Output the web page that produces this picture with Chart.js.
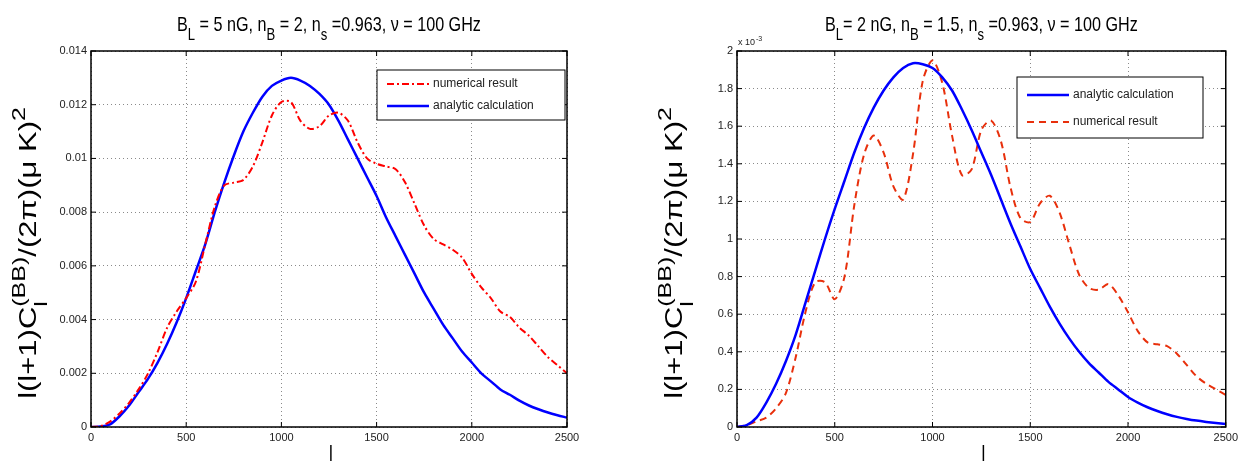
<!DOCTYPE html>
<html>
<head>
<meta charset="utf-8">
<script src="https://cdn.jsdelivr.net/npm/chart.js@4.4.1/dist/chart.umd.min.js"></script>
<style>
body { margin: 0; background: #fff; }
#wrap { position: relative; width: 1242px; height: 463px; }
canvas { position: absolute; left: 0; top: 0; }
</style>
</head>
<body>
<div id="wrap">
    <canvas id="chart1" width="1242" height="463"></canvas>
    <canvas id="chart2" width="1242" height="463"></canvas>
</div>
<script>
// multipole l, sampled every 50
const ell = [0, 50, 100, 150, 200, 250, 300, 350, 400, 450,
    500, 550, 600, 650, 700, 750, 800, 850, 900, 950,
    1000, 1050, 1100, 1150, 1200, 1250, 1300, 1350, 1400, 1450,
    1500, 1550, 1600, 1650, 1700, 1750, 1800, 1850, 1900, 1950,
    2000, 2050, 2100, 2150, 2200, 2250, 2300, 2350, 2400, 2450, 2500]

// left panel: B_L = 5 nG, n_B = 2
const analytic5nG = [0, 0.00002, 0.0001, 0.0004, 0.0008, 0.0013, 0.0018, 0.0024, 0.0031, 0.0039,
    0.0048, 0.0058, 0.0068, 0.0080, 0.0091, 0.0101, 0.0110, 0.0117, 0.0123, 0.0127,
    0.0129, 0.0130, 0.0129, 0.0127, 0.0124, 0.0120, 0.0114, 0.0107, 0.0100, 0.0093,
    0.0086, 0.0078, 0.0071, 0.0064, 0.0057, 0.0050, 0.0044, 0.0038, 0.0033, 0.0028,
    0.0024, 0.0020, 0.0017, 0.0014, 0.0012, 0.00098, 0.0008, 0.00066, 0.00054, 0.00044, 0.00035]
const numerical5nG = [0, 0.00003, 0.0002, 0.0005, 0.0009, 0.0014, 0.0020, 0.0028, 0.0037, 0.0043,
    0.0048, 0.0054, 0.0068, 0.0082, 0.0090, 0.0091, 0.0092, 0.0097, 0.0106, 0.0116,
    0.0121, 0.0121, 0.0114, 0.0111, 0.0112, 0.0116, 0.0117, 0.0114, 0.0106, 0.0100,
    0.0098, 0.0097, 0.0096, 0.0091, 0.0083, 0.0075, 0.0070, 0.0068, 0.0066, 0.0063,
    0.0057, 0.0052, 0.0048, 0.0043, 0.0041, 0.0037, 0.0034, 0.0030, 0.0026, 0.0023, 0.0020]

// right panel: B_L = 2 nG, n_B = 1.5 (units of 1e-3)
const analytic2nG = [0, 0.01, 0.05, 0.13, 0.23, 0.35, 0.49, 0.66, 0.83, 1.00,
    1.16, 1.31, 1.46, 1.59, 1.70, 1.79, 1.86, 1.91, 1.935, 1.93,
    1.91, 1.86, 1.79, 1.69, 1.58, 1.46, 1.34, 1.21, 1.08, 0.96,
    0.84, 0.74, 0.64, 0.55, 0.47, 0.40, 0.34, 0.29, 0.24, 0.20,
    0.16, 0.13, 0.105, 0.085, 0.068, 0.054, 0.043, 0.034, 0.027, 0.021, 0.016]
const numerical2nG = [0, 0.01, 0.03, 0.05, 0.10, 0.18, 0.37, 0.61, 0.77, 0.77,
    0.68, 0.80, 1.18, 1.45, 1.55, 1.46, 1.28, 1.21, 1.45, 1.84,
    1.95, 1.83, 1.55, 1.34, 1.37, 1.58, 1.63, 1.52, 1.27, 1.11,
    1.09, 1.19, 1.23, 1.14, 0.97, 0.81, 0.74, 0.73, 0.76, 0.70,
    0.61, 0.51, 0.45, 0.44, 0.43, 0.39, 0.33, 0.27, 0.23, 0.20, 0.17]

const xTicks = ['0', '500', '1000', '1500', '2000', '2500']
const leftYTicks = ['0', '0.002', '0.004', '0.006', '0.008', '0.01', '0.012', '0.014']
const rightYTicks = ['0', '0.2', '0.4', '0.6', '0.8', '1', '1.2', '1.4', '1.6', '1.8', '2']

const FONT = '"Liberation Sans", Arial, sans-serif'
const SQUEEZE = 0.77 // the figure is squashed sideways
const BLUE = '#0000ff'
const RED1 = '#ff0000'
const RED2 = '#e8300c'
const DASHDOT = [7, 3, 2, 3]
const DASHED = [7, 5]

const pts = (xs, ys) => xs.map((x, i) => ({ x: x, y: ys[i] }))

// text with sub/superscripts
function richWidth(ctx, parts, size) {
    let w = 0
    for (const p of parts) {
        if (p.t !== undefined) {
            ctx.font = size + 'px ' + FONT
            w += ctx.measureText(p.t).width
        } else {
            ctx.font = Math.round(size * 0.8) + 'px ' + FONT
            w += Math.max(ctx.measureText(p.sub || '').width, ctx.measureText(p.sup || '').width)
        }
    }
    return w
}
function drawRich(ctx, parts, size, x) {
    for (const p of parts) {
        if (p.t !== undefined) {
            ctx.font = size + 'px ' + FONT
            ctx.fillText(p.t, x, 0)
            x += ctx.measureText(p.t).width
        } else {
            ctx.font = Math.round(size * 0.8) + 'px ' + FONT
            let w = 0
            if (p.sub) { ctx.fillText(p.sub, x, size * 0.45); w = ctx.measureText(p.sub).width }
            if (p.sup) { ctx.fillText(p.sup, x, -size * 0.5); w = Math.max(w, ctx.measureText(p.sup).width) }
            x += w
        }
    }
}

const yLabelParts = [{ t: 'l(l+1)C' }, { sub: 'l', sup: '(BB)' }, { t: '/(2\u03c0)(\u03bc K)' }, { sup: '2' }]

const decor = {
    chart1: {
        title: [{ t: 'B' }, { sub: 'L' }, { t: ' = 5 nG, n' }, { sub: 'B' }, { t: ' = 2, n' }, { sub: 's' }, { t: ' =0.963, \u03bd = 100 GHz' }],
        ylabelX: 28,
        legend: { x: 377, y: 70, w: 188, h: 50, rows: [
            { label: 'numerical result', color: RED1, dash: DASHDOT, width: 2, dy: 14 },
            { label: 'analytic calculation', color: BLUE, dash: [], width: 2.5, dy: 36 },
        ] },
    },
    chart2: {
        title: [{ t: 'B' }, { sub: 'L' }, { t: '= 2 nG, n' }, { sub: 'B' }, { t: ' = 1.5, n' }, { sub: 's' }, { t: ' =0.963, \u03bd = 100 GHz' }],
        ylabelX: 674,
        legend: { x: 1017, y: 77, w: 186, h: 61, rows: [
            { label: 'analytic calculation', color: BLUE, dash: [], width: 2.5, dy: 18 },
            { label: 'numerical result', color: RED2, dash: DASHED, width: 2, dy: 45 },
        ] },
        exponent: true,
    },
}

const matlabFrame = {
    id: 'matlabFrame',
    afterDraw(chart) {
        const d = decor[chart.canvas.id]
        const { ctx, chartArea: a, scales } = chart
        const cx = (a.left + a.right) / 2
        const cy = (a.top + a.bottom) / 2
        ctx.save()
        // box + inward ticks
        ctx.strokeStyle = '#000'
        ctx.setLineDash([])
        ctx.lineWidth = 1
        ctx.beginPath()
        scales.x.ticks.forEach(t => {
            const px = scales.x.getPixelForValue(t.value)
            ctx.moveTo(px, a.bottom); ctx.lineTo(px, a.bottom - 5)
            ctx.moveTo(px, a.top); ctx.lineTo(px, a.top + 5)
        })
        scales.y.ticks.forEach(t => {
            const py = scales.y.getPixelForValue(t.value)
            ctx.moveTo(a.left, py); ctx.lineTo(a.left + 5, py)
            ctx.moveTo(a.right, py); ctx.lineTo(a.right - 5, py)
        })
        ctx.stroke()
        ctx.lineWidth = 1.5
        ctx.strokeRect(a.left, a.top, a.right - a.left, a.bottom - a.top)

        // legend
        const lg = d.legend
        ctx.fillStyle = '#fff'
        ctx.fillRect(lg.x, lg.y, lg.w, lg.h)
        ctx.lineWidth = 1
        ctx.strokeRect(lg.x, lg.y, lg.w, lg.h)
        lg.rows.forEach(r => {
            const y = lg.y + r.dy
            ctx.strokeStyle = r.color
            ctx.lineWidth = r.width
            ctx.setLineDash(r.dash)
            ctx.beginPath()
            ctx.moveTo(lg.x + 10, y); ctx.lineTo(lg.x + 52, y)
            ctx.stroke()
            ctx.setLineDash([])
            ctx.fillStyle = '#222'
            ctx.font = '12px ' + FONT
            ctx.textBaseline = 'middle'
            ctx.fillText(r.label, lg.x + 56, y)
        })

        // title, axis labels
        ctx.fillStyle = '#000'
        ctx.textBaseline = 'alphabetic'
        ctx.textAlign = 'left'
        ctx.save()
        ctx.translate(cx, 31)
        ctx.scale(SQUEEZE, 1)
        drawRich(ctx, d.title, 21, -richWidth(ctx, d.title, 21) / 2)
        ctx.restore()

        ctx.save()
        ctx.translate(d.ylabelX, cy + 14)
        ctx.scale(SQUEEZE, 1)
        ctx.rotate(-Math.PI / 2)
        ctx.translate(0, 11)
        drawRich(ctx, yLabelParts, 31, -richWidth(ctx, yLabelParts, 31) / 2)
        ctx.restore()

        ctx.save()
        ctx.translate(cx + 2, 461)
        ctx.scale(SQUEEZE, 1)
        ctx.font = '22px ' + FONT
        ctx.textAlign = 'center'
        ctx.fillText('l', 0, 0)
        ctx.restore()

        if (d.exponent) {
            ctx.textAlign = 'left'
            ctx.fillStyle = '#222'
            ctx.font = '9px ' + FONT
            ctx.fillText('x 10', a.left + 1, a.top - 6)
            ctx.font = '7px ' + FONT
            ctx.fillText('-3', a.left + 19, a.top - 10)
        }
        ctx.restore()
    },
}

function axes(yMax, yStep, yLabels) {
    return {
        x: {
            type: 'linear', min: 0, max: 2500,
            ticks: {
                stepSize: 500, padding: 4, color: '#222', font: { family: FONT, size: 11 },
                callback: (v, i) => xTicks[i],
            },
            grid: { color: '#8a8a8a', lineWidth: 1, drawTicks: false },
            border: { display: false, dash: [1, 3] },
            afterFit: (s) => { s.height = 26 },
        },
        y: {
            min: 0, max: yMax,
            ticks: {
                stepSize: yStep, padding: 4, color: '#222', font: { family: FONT, size: 11 },
                callback: (v, i) => yLabels[i],
            },
            grid: { color: '#8a8a8a', lineWidth: 1, drawTicks: false },
            border: { display: false, dash: [1, 3] },
            afterFit: (s) => { s.width = 45 },
        },
    }
}

const common = {
    responsive: false,
    animation: false,
    devicePixelRatio: 1,
    plugins: { legend: { display: false }, tooltip: { enabled: false } },
    elements: { point: { radius: 0 }, line: { tension: 0.3 } },
}

const chart1 = new Chart(document.getElementById('chart1'), {
    type: 'line',
    data: {
        datasets: [
            { label: 'numerical result', data: pts(ell, numerical5nG), borderColor: RED1, borderWidth: 2, borderDash: DASHDOT },
            { label: 'analytic calculation', data: pts(ell, analytic5nG), borderColor: BLUE, borderWidth: 2.5 },
        ],
    },
    options: {
        ...common,
        layout: { padding: { left: 46, right: 675, top: 51, bottom: 10 } },
        scales: axes(0.014, 0.002, leftYTicks),
    },
    plugins: [matlabFrame],
})

const chart2 = new Chart(document.getElementById('chart2'), {
    type: 'line',
    data: {
        datasets: [
            { label: 'analytic calculation', data: pts(ell, analytic2nG), borderColor: BLUE, borderWidth: 2.5 },
            { label: 'numerical result', data: pts(ell, numerical2nG), borderColor: RED2, borderWidth: 2, borderDash: DASHED },
        ],
    },
    options: {
        ...common,
        layout: { padding: { left: 692, right: 14, top: 51, bottom: 10 } },
        scales: axes(2, 0.2, rightYTicks),
    },
    plugins: [matlabFrame],
})
</script>
</body>
</html>
